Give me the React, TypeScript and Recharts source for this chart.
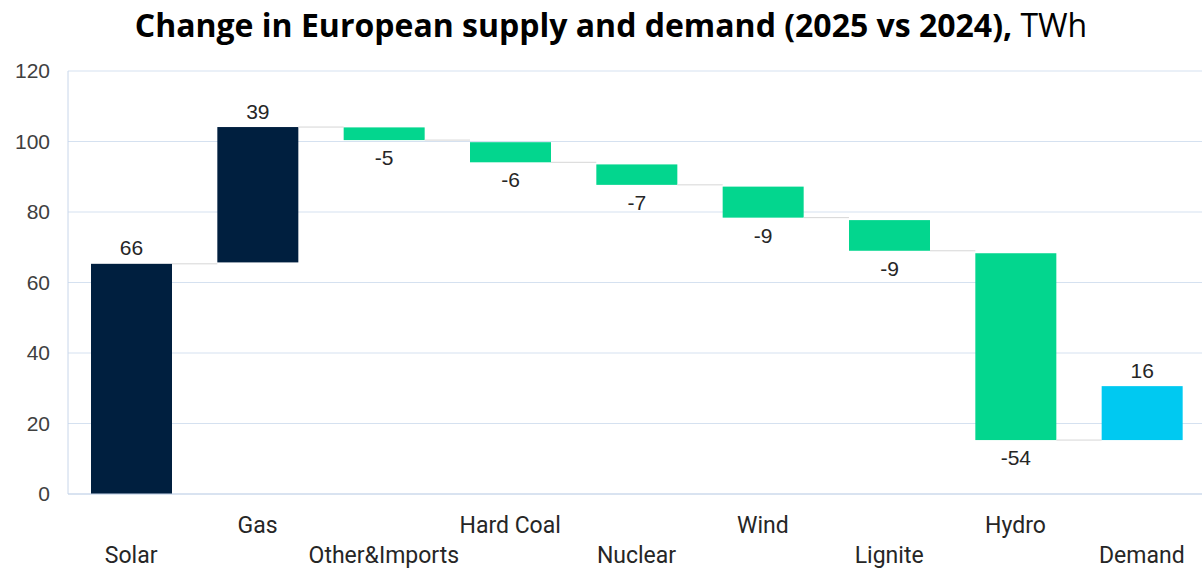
import React from 'react';
import { BarChart, Bar, XAxis, YAxis, CartesianGrid, Cell } from 'recharts';

const categories = ['Solar', 'Gas', 'Other&Imports', 'Hard Coal', 'Nuclear', 'Wind', 'Lignite', 'Hydro', 'Demand'];
const barStart = [0, 65.7, 104.0, 99.8, 93.5, 87.2, 77.7, 68.3, 15.3];
const barEnd = [65.3, 104.1, 100.4, 94.1, 87.7, 78.4, 69.0, 15.3, 30.6];
const valueLabels = ['66', '39', '-5', '-6', '-7', '-9', '-9', '-54', '16'];
const barKinds = ['total', 'total', 'down', 'down', 'down', 'down', 'down', 'down', 'demand'];
const yTicks = [0, 20, 40, 60, 80, 100, 120];

const COLORS: Record<string, string> = { total: '#001F3F', down: '#03D68E', demand: '#00C9F1' };

const data = categories.map((name, i) => ({
  name,
  range: [Math.min(barStart[i], barEnd[i]), Math.max(barStart[i], barEnd[i])],
  kind: barKinds[i],
}));

const CHART_W = 1210;
const CHART_H = 570;
const MARGIN = { top: 71, right: 5, left: 0, bottom: 0 };
const Y_AXIS_W = 68;
const BAND = (CHART_W - MARGIN.left - MARGIN.right - Y_AXIS_W) / categories.length;

const WaterfallShape = (props: any) => {
  const { x, y, width, height, index } = props;
  const top = Math.min(y, y + height);
  const bottom = Math.max(y, y + height);
  const rising = barEnd[index] >= barStart[index];
  const endY = rising ? top : bottom;
  const labelY = rising ? top - 8.5 : bottom + 25;
  return (
    <g>
      <rect x={x} y={top} width={width} height={bottom - top} fill={COLORS[barKinds[index]]} />
      {index < categories.length - 1 && (
        <line x1={x + width} x2={x + BAND} y1={endY} y2={endY} stroke="#D6D6D6" strokeWidth={1} />
      )}
      <text
        x={x + width / 2}
        y={labelY}
        textAnchor="middle"
        fontFamily="'Liberation Sans', Arial, sans-serif"
        fontSize={21}
        fill="#262626"
      >
        {valueLabels[index]}
      </text>
    </g>
  );
};

const CategoryTick = (props: any) => {
  const { x, payload, index } = props;
  const upper = index % 2 === 1;
  return (
    <text
      x={x}
      y={upper ? 533 : 563}
      textAnchor="middle"
      fontFamily="Roboto, sans-serif"
      fontSize={23}
      fill="#262626"
    >
      {payload.value}
    </text>
  );
};

export default function App() {
  return (
    <div style={{ position: 'fixed', left: 0, top: 0, width: 1202, height: 570, overflow: 'hidden', background: '#fff' }}>
      <svg width={1202} height={60} style={{ position: 'absolute', left: 0, top: 0 }}>
        <text x={611} y={37} textAnchor="middle" fontFamily="'Open Sans', sans-serif" fontSize={32} fill="#000">
          <tspan fontWeight={700}>Change in European supply and demand (2025 vs 2024),</tspan>
          <tspan fontWeight={400}> TWh</tspan>
        </text>
      </svg>
      <div style={{ position: 'absolute', left: 0, top: 0 }}>
        <BarChart width={CHART_W} height={CHART_H} data={data} margin={MARGIN}>
          <CartesianGrid horizontal={true} vertical={false} stroke="#D5E1F0" strokeWidth={1} />
          <XAxis
            dataKey="name"
            interval={0}
            height={76}
            tickLine={false}
            axisLine={{ stroke: '#C8D6EA' }}
            tick={<CategoryTick />}
          />
          <YAxis
            width={Y_AXIS_W}
            domain={[0, 120]}
            ticks={yTicks}
            tickLine={false}
            tickSize={0}
            tickMargin={18}
            axisLine={{ stroke: '#C8D6EA' }}
            tick={{ fontFamily: "'Liberation Sans', Arial, sans-serif", fontSize: 21, fill: '#404040' }}
          />
          <Bar dataKey="range" barSize={81} isAnimationActive={false} shape={<WaterfallShape />}>
            {data.map((d, i) => (
              <Cell key={i} fill={COLORS[d.kind]} />
            ))}
          </Bar>
        </BarChart>
      </div>
    </div>
  );
}
